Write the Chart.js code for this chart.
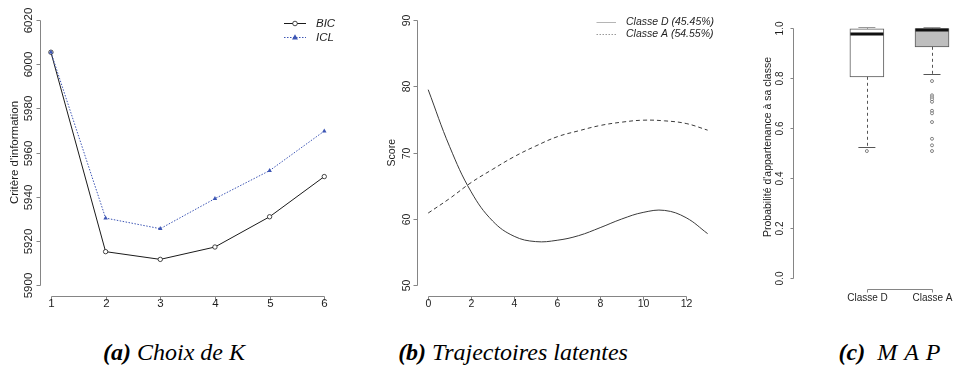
<!DOCTYPE html>
<html>
<head>
<meta charset="utf-8">
<script src="https://cdn.jsdelivr.net/npm/chart.js@4.4.1/dist/chart.umd.min.js"></script>
<style>
  html, body { margin:0; padding:0; background:#fff; }
  #wrap { position:relative; width:957px; height:378px; background:#fff; overflow:hidden; }
  canvas { position:absolute; top:0; }
  .cap { position:absolute; top:336px; line-height:32px; font-family:"Liberation Serif", "DejaVu Serif", serif; font-style:italic; font-size:24px; color:#000; white-space:nowrap; transform:translateX(-50%); }
  .cap b { font-weight:bold; }
  .wide { letter-spacing:7px; }
</style>
</head>
<body>
<div id="wrap">
  <canvas id="ca" width="340" height="310" style="left:0px"></canvas>
  <canvas id="cb" width="380" height="310" style="left:340px"></canvas>
  <canvas id="cc" width="237" height="310" style="left:720px"></canvas>
  <div class="cap" style="left:174px"><b>(a)</b> Choix de K</div>
  <div class="cap" style="left:513px"><b>(b)</b> Trajectoires latentes</div>
  <div class="cap" style="left:893px"><b>(c)</b>&nbsp;&nbsp;<span class="wide">MAP</span></div>
</div>
<script>
// ---------- Panel (a) : Choix de K ----------
const kValues = [1, 2, 3, 4, 5, 6];
const bicValues = [6005.4, 5915.1, 5911.6, 5917.2, 5930.9, 5949.1];
const iclValues = [6005.4, 5930.3, 5925.5, 5939.1, 5951.8, 5969.7];
const kTicksX = [1, 2, 3, 4, 5, 6];
const critTicksY = [5900, 5920, 5940, 5960, 5980, 6000, 6020];

// ---------- Panel (b) : Trajectoires latentes ----------
const months = [0, 1, 2, 3, 4, 5, 6, 7, 8, 9, 10, 11, 12, 13];
const classeD = [79.5, 70.9, 64.1, 59.7, 57.4, 56.6, 56.8, 57.5, 58.7, 60.0, 61.0, 61.3, 60.2, 57.8];
const classeA = [60.9, 63.1, 65.5, 67.5, 69.4, 71.0, 72.4, 73.3, 74.1, 74.6, 74.9, 74.8, 74.4, 73.4];
const monthTicksX = [0, 2, 4, 6, 8, 10, 12];
const scoreTicksY = [50, 60, 70, 80, 90];
const trajLegend = ['Classe D (45.45%)', 'Classe A (54.55%)'];

// ---------- Panel (c) : MAP ----------
const classes = ['Classe D', 'Classe A'];
const classPos = [1, 2];
const whiskerLow = [0.525, 0.816];
const q1 = [0.806, 0.926];
const median = [0.977, 0.993];
const q3 = [0.998, 0.999];
const whiskerHigh = [1.0, 1.0];
const outliersD = [0.509];
const outliersA = [0.789, 0.732, 0.724, 0.716, 0.706, 0.670, 0.660, 0.625, 0.558, 0.532, 0.509];
const probTicksY = [0, 0.2, 0.4, 0.6, 0.8, 1.0];

// ---------- R-style axes plugin ----------
function rAxes(cfg) {
  return {
    id: 'rAxes',
    afterDraw(chart) {
      const ctx = chart.ctx, ca = chart.chartArea;
      const xs = chart.scales.x, ys = chart.scales.y;
      ctx.save();
      ctx.strokeStyle = '#858585';
      ctx.lineWidth = 1;
      ctx.fillStyle = '#1e1e1e';
      ctx.font = cfg.font;
      // x axis
      const xp = cfg.xTicks.map(v => Math.round(xs.getPixelForValue(v)) + 0.5);
      const yb = Math.round(ca.bottom) + 0.5;
      ctx.beginPath();
      ctx.moveTo(xp[0], yb); ctx.lineTo(xp[xp.length - 1], yb);
      xp.forEach(p => { ctx.moveTo(p, yb); ctx.lineTo(p, yb + cfg.tick); });
      ctx.stroke();
      ctx.textAlign = 'center'; ctx.textBaseline = 'middle';
      cfg.xLabels.forEach((t, i) => ctx.fillText(t, xp[i], cfg.xLabelY));
      if (cfg.xTitle) ctx.fillText(cfg.xTitle, (ca.left + ca.right) / 2, cfg.xTitleY);
      // y axis
      const yp = cfg.yTicks.map(v => Math.round(ys.getPixelForValue(v)) + 0.5);
      const xl = Math.round(ca.left) + 0.5;
      ctx.beginPath();
      ctx.moveTo(xl, yp[0]); ctx.lineTo(xl, yp[yp.length - 1]);
      yp.forEach(p => { ctx.moveTo(xl, p); ctx.lineTo(xl - cfg.tick, p); });
      ctx.stroke();
      ctx.textBaseline = cfg.yBaseline || 'middle';
      cfg.yLabels.forEach((t, i) => {
        ctx.save(); ctx.translate(cfg.yLabelX, yp[i]); ctx.rotate(-Math.PI / 2);
        ctx.fillText(t, 0, 0); ctx.restore();
      });
      ctx.save();
      if (cfg.yTitleFont) ctx.font = cfg.yTitleFont;
      ctx.translate(cfg.yTitleX, cfg.yTitleY != null ? cfg.yTitleY : (ca.top + ca.bottom) / 2);
      ctx.rotate(-Math.PI / 2);
      ctx.fillText(cfg.yTitle, 0, 0);
      ctx.restore();
      ctx.restore();
    }
  };
}

const baseOpts = {
  responsive: false,
  animation: false,
  events: [],
  plugins: { legend: { display: false }, tooltip: { enabled: false } }
};

// ---------- Chart (a) ----------
const legendA = {
  id: 'legendA',
  afterDraw(chart) {
    const ctx = chart.ctx;
    ctx.save();
    ctx.font = 'italic 11.5px "Liberation Sans", Arial, sans-serif';
    ctx.textBaseline = 'middle'; ctx.textAlign = 'left';
    // BIC
    ctx.strokeStyle = '#1a1a1a'; ctx.lineWidth = 1;
    ctx.beginPath(); ctx.moveTo(284, 23.5); ctx.lineTo(306, 23.5); ctx.stroke();
    ctx.fillStyle = '#fff'; ctx.beginPath(); ctx.arc(295, 23.5, 2.3, 0, Math.PI * 2); ctx.fill();
    ctx.lineWidth = 0.8; ctx.stroke();
    ctx.fillStyle = '#1e1e1e'; ctx.fillText('BIC', 316, 23.5);
    // ICL
    ctx.strokeStyle = '#3c55b4'; ctx.lineWidth = 1; ctx.setLineDash([1.5, 1.5]);
    ctx.beginPath(); ctx.moveTo(284, 37.5); ctx.lineTo(306, 37.5); ctx.stroke();
    ctx.setLineDash([]);
    ctx.fillStyle = '#3c55b4';
    ctx.beginPath(); ctx.moveTo(295, 34.3); ctx.lineTo(298, 39.5); ctx.lineTo(292, 39.5); ctx.closePath(); ctx.fill();
    ctx.fillStyle = '#1e1e1e'; ctx.fillText('ICL', 316, 37.5);
    ctx.restore();
  }
};

new Chart(document.getElementById('ca'), {
  type: 'line',
  data: {
    datasets: [
      {
        label: 'ICL', order: 0,
        data: kValues.map((k, i) => ({ x: k, y: iclValues[i] })),
        borderColor: '#3c55b4', borderWidth: 1, borderDash: [1.5, 1.5],
        pointStyle: 'triangle', pointRadius: 2.6, pointBackgroundColor: '#3c55b4', pointBorderWidth: 0,
        tension: 0
      },
      {
        label: 'BIC', order: 1,
        data: kValues.map((k, i) => ({ x: k, y: bicValues[i] })),
        borderColor: '#1a1a1a', borderWidth: 1,
        pointStyle: 'circle', pointRadius: 2.2, pointBackgroundColor: '#ffffff',
        pointBorderColor: '#1a1a1a', pointBorderWidth: 0.8,
        tension: 0
      }
    ]
  },
  options: Object.assign({}, baseOpts, {
    layout: { padding: { left: 40, right: 0, top: 9.4, bottom: 14.4 } },
    scales: {
      x: { type: 'linear', min: 0.8, max: 6.2, display: false },
      y: { type: 'linear', min: 5895.2, max: 6024.8, display: false }
    }
  }),
  plugins: [rAxes({
    font: '11.5px "Liberation Sans", Arial, sans-serif', tick: 4,
    xTicks: kTicksX, xLabels: kTicksX.map(String), xLabelY: 304, xTitle: 'K', xTitleY: 319,
    yTicks: critTicksY, yLabels: critTicksY.map(String), yLabelX: 28.5, yTitle: "Critère d'information", yTitleX: 15
  }), legendA]
});

// ---------- Chart (b) ----------
const legendB = {
  id: 'legendB',
  afterDraw(chart) {
    const ctx = chart.ctx;
    ctx.save();
    ctx.font = 'italic 10.5px "Liberation Sans", Arial, sans-serif';
    ctx.textBaseline = 'middle'; ctx.textAlign = 'left';
    ctx.lineWidth = 1;
    ctx.strokeStyle = '#b5b5b5';
    ctx.beginPath(); ctx.moveTo(256.5, 22.5); ctx.lineTo(276, 22.5); ctx.stroke();
    ctx.strokeStyle = '#9a9a9a'; ctx.setLineDash([1.5, 1.5]);
    ctx.beginPath(); ctx.moveTo(256.5, 34.5); ctx.lineTo(276, 34.5); ctx.stroke();
    ctx.setLineDash([]);
    ctx.fillStyle = '#1e1e1e';
    ctx.fillText(trajLegend[0], 286, 22.5);
    ctx.fillText(trajLegend[1], 286, 34.5);
    ctx.restore();
  }
};

new Chart(document.getElementById('cb'), {
  type: 'line',
  data: {
    datasets: [
      {
        label: trajLegend[0],
        data: months.map((t, i) => ({ x: t, y: classeD[i] })),
        borderColor: '#3a3a3a', borderWidth: 1, pointRadius: 0, tension: 0.4
      },
      {
        label: trajLegend[1],
        data: months.map((t, i) => ({ x: t, y: classeA[i] })),
        borderColor: '#3a3a3a', borderWidth: 1, borderDash: [4, 3], pointRadius: 0, tension: 0.4
      }
    ]
  },
  options: Object.assign({}, baseOpts, {
    layout: { padding: { left: 77, right: 1.2, top: 9.4, bottom: 14 } },
    scales: {
      x: { type: 'linear', min: -0.52, max: 13.52, display: false },
      y: { type: 'linear', min: 48.4, max: 91.6, display: false }
    }
  }),
  plugins: [rAxes({
    font: '10.5px "Liberation Sans", Arial, sans-serif', tick: 4,
    xTicks: monthTicksX, xLabels: monthTicksX.map(String), xLabelY: 304.5, xTitle: 'Temps (mois)', xTitleY: 319,
    yTicks: scoreTicksY, yLabels: scoreTicksY.map(String), yLabelX: 66.7, yTitle: 'Score', yTitleX: 51.7
  }), legendB]
});

// ---------- Chart (c) ----------
const boxExtras = {
  id: 'boxExtras',
  afterDatasetsDraw(chart) {
    const ctx = chart.ctx, xs = chart.scales.x, ys = chart.scales.y;
    ctx.save();
    classPos.forEach((pos, i) => {
      const cx = xs.getPixelForValue(pos);
      const half = 17, capHalf = 8.5;
      // whiskers (dashed)
      ctx.strokeStyle = '#555'; ctx.lineWidth = 1; ctx.setLineDash([3, 3]);
      ctx.beginPath();
      ctx.moveTo(Math.round(cx) + 0.5, ys.getPixelForValue(q1[i]));
      ctx.lineTo(Math.round(cx) + 0.5, ys.getPixelForValue(whiskerLow[i]));
      ctx.moveTo(Math.round(cx) + 0.5, ys.getPixelForValue(q3[i]));
      ctx.lineTo(Math.round(cx) + 0.5, ys.getPixelForValue(whiskerHigh[i]));
      ctx.stroke();
      ctx.setLineDash([]);
      // caps
      ctx.strokeStyle = '#555';
      const yl = Math.round(ys.getPixelForValue(whiskerLow[i])) + 0.5;
      ctx.beginPath(); ctx.moveTo(cx - capHalf, yl); ctx.lineTo(cx + capHalf, yl); ctx.stroke();
      ctx.strokeStyle = '#999';
      const yh = Math.round(ys.getPixelForValue(whiskerHigh[i])) - 0.5;
      ctx.beginPath(); ctx.moveTo(cx - capHalf, yh); ctx.lineTo(cx + capHalf, yh); ctx.stroke();
      // median
      ctx.strokeStyle = '#111'; ctx.lineWidth = 3;
      const ym = ys.getPixelForValue(median[i]);
      ctx.beginPath(); ctx.moveTo(cx - half + 0.5, ym); ctx.lineTo(cx + half - 0.5, ym); ctx.stroke();
    });
    ctx.restore();
  }
};

new Chart(document.getElementById('cc'), {
  type: 'bar',
  data: {
    datasets: [
      {
        type: 'scatter', label: 'outliers',
        data: outliersD.map(v => ({ x: classPos[0], y: v })).concat(outliersA.map(v => ({ x: classPos[1], y: v }))),
        pointStyle: 'circle', pointRadius: 1.5, pointBackgroundColor: '#fff',
        pointBorderColor: '#666', pointBorderWidth: 0.8, showLine: false
      },
      {
        type: 'bar', label: 'box',
        data: classPos.map((p, i) => ({ x: p, y: [q1[i], q3[i]] })),
        backgroundColor: ['#ffffff', '#bebebe'],
        borderColor: '#5a5a5a', borderWidth: 1, borderSkipped: false,
        barThickness: 34
      }
    ]
  },
  options: Object.assign({}, baseOpts, {
    layout: { padding: { left: 73.3, right: 0, top: 18.3, bottom: 20.7 } },
    scales: {
      x: { type: 'linear', min: -0.13, max: 2.31, display: false, offset: false },
      y: { type: 'linear', min: -0.044, max: 1.04, display: false }
    }
  }),
  plugins: [boxExtras, rAxes({
    font: '10px "Liberation Sans", Arial, sans-serif', tick: 3,
    xTicks: classPos, xLabels: classes, xLabelY: 298.5, xTitle: '',
    yTicks: probTicksY, yLabels: probTicksY.map(v => v.toFixed(1)), yLabelX: 62.5, yBaseline: 'alphabetic',
    yTitle: "Probabilité d'appartenance à sa classe", yTitleFont: '10.5px "Liberation Sans", Arial, sans-serif',
    yTitleX: 50.5, yTitleY: 147
  })]
});
</script>
</body>
</html>
